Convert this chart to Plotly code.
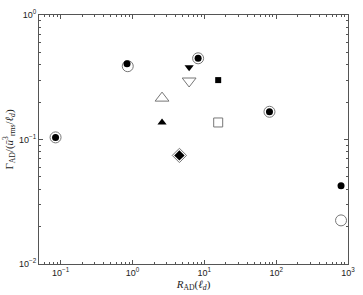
import plotly.graph_objects as go

# ---- data ----
dot_x = [0.085, 0.84, 8.2, 80.7, 800]
dot_y = [0.104, 0.405, 0.449, 0.167, 0.0426]
ocirc_x = [0.085, 0.86, 8.2, 80.7, 800]
ocirc_y = [0.104, 0.388, 0.449, 0.167, 0.0224]
tri_up_open_x = [2.58]
tri_up_open_y = [0.215]
tri_up_fill_x = [2.58]
tri_up_fill_y = [0.137]
diamond_x = [4.5]
diamond_y = [0.0745]
tri_dn_fill_x = [6.15]
tri_dn_fill_y = [0.38]
tri_dn_open_x = [6.15]
tri_dn_open_y = [0.295]
sq_fill_x = [15.6]
sq_fill_y = [0.30]
sq_open_x = [15.6]
sq_open_y = [0.137]

x_decades = [-1, 0, 1, 2, 3]
y_decades = [-2, -1, 0]

def sup_label(e):
    return "10<sup>" + (str(e) if e >= 0 else "\u2212" + str(-e)) + "</sup>"

def minors(decs, lo, hi):
    out = []
    for d in range(min(decs) - 1, max(decs) + 1):
        for m in range(2, 10):
            v = m * 10 ** d
            if lo <= v <= hi:
                out.append(v)
    return out

GRAY = "#777777"
fig = go.Figure()

def add(x, y, symbol, size, color, line_color=None, lw=0):
    fig.add_trace(go.Scatter(
        x=x, y=y, mode="markers", showlegend=False,
        marker=dict(symbol=symbol, size=size, color=color,
                    line=dict(color=line_color or color, width=lw))))

add(ocirc_x, ocirc_y, "circle-open", 11, GRAY, GRAY, 1)
add(dot_x, dot_y, "circle", 7, "black")
add(tri_up_open_x, tri_up_open_y, "triangle-up-open", 12, GRAY, GRAY, 1)
add(tri_up_fill_x, tri_up_fill_y, "triangle-up", 8, "black")
add(diamond_x, diamond_y, "diamond-open", 11, GRAY, GRAY, 1)
add(diamond_x, diamond_y, "diamond", 8, "black")
add(tri_dn_fill_x, tri_dn_fill_y, "triangle-down", 8, "black")
add(tri_dn_open_x, tri_dn_open_y, "triangle-down-open", 12, GRAY, GRAY, 1)
add(sq_fill_x, sq_fill_y, "square", 6, "black")
add(sq_open_x, sq_open_y, "square-open", 9, GRAY, GRAY, 1)

axis_common = dict(
    showgrid=False, zeroline=False, showline=True, linecolor="#555555",
    linewidth=1, mirror="ticks", ticks="inside", ticklen=4,
    tickcolor="#555555", tickfont=dict(family="Liberation Sans", size=9, color="#222222"),
)

fig.update_xaxes(
    type="log", range=[-1.301, 3],
    tickvals=[10 ** d for d in x_decades],
    ticktext=[sup_label(d) for d in x_decades],
    minor=dict(tickvals=minors(x_decades, 0.05, 1000), ticks="inside",
               ticklen=2, tickcolor="#555555", showgrid=False),
    title=dict(text="<i>R</i><sub>AD</sub>(<i>\u2113<sub>d</sub></i>)",
               font=dict(family="Liberation Serif", size=11, color="#222222"),
               standoff=2),
    **axis_common)
fig.update_yaxes(
    type="log", range=[-2, 0],
    tickvals=[10 ** d for d in y_decades],
    ticktext=[sup_label(d) for d in y_decades],
    minor=dict(tickvals=minors(y_decades, 0.01, 1), ticks="inside",
               ticklen=2, tickcolor="#555555", showgrid=False),
    title=dict(text="\u0393<sub>AD</sub>/(<i>\u016B</i><sup>3</sup><sub>rms</sub>/<i>\u2113<sub>d</sub></i>)",
               font=dict(family="Liberation Serif", size=11, color="#222222"),
               standoff=3),
    **axis_common)

fig.update_layout(
    width=363, height=295,
    margin=dict(l=34, r=8, t=10, b=28),
    paper_bgcolor="white", plot_bgcolor="white",
)

fig.write_html("out.html",
               config={"displayModeBar": False},
               post_script="document.body.style.margin='0';document.body.style.overflow='hidden';")
